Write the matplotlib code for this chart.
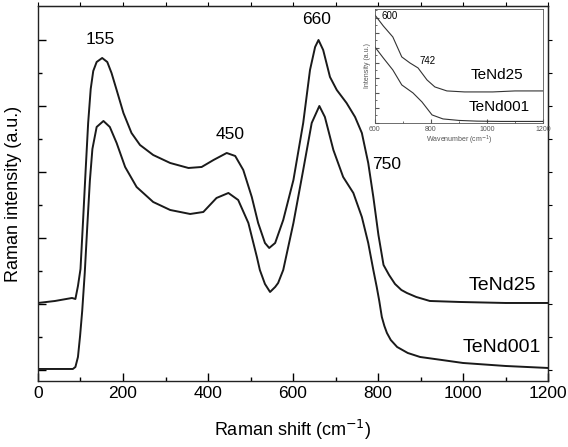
import matplotlib
matplotlib.use("Agg")
import matplotlib.pyplot as plt
from matplotlib.ticker import MultipleLocator, FixedLocator

plt.rcParams['font.family'] = ['Liberation Sans', 'DejaVu Sans']

# main spectra (x in cm-1, intensity in arbitrary units)
x_nd25 = [0, 40, 80, 88, 94, 100, 106, 112, 118, 124, 130, 138, 151, 163, 173, 185,
          201, 220, 240, 271, 311, 354, 385, 413, 444, 464, 483, 503, 518, 534,
          544, 558, 577, 601, 624, 640, 652, 660, 671, 687, 703, 726, 746, 762,
          777, 789, 801, 813, 826, 840, 855, 868, 890, 922, 993, 1100, 1200]
y_nd25 = [78, 80, 83, 82, 95, 112, 160, 210, 258, 292, 310, 319, 323, 319, 308, 291,
          268, 248, 236, 226, 218, 213, 214, 221, 228, 225, 211, 184, 158, 138,
          133, 138, 161, 201, 258, 311, 334, 341, 331, 304, 291, 278, 264, 248,
          218, 184, 146, 116, 106, 97, 91, 88, 84, 80, 79, 78, 78]

x_nd001 = [0, 40, 82, 88, 94, 99, 104, 110, 116, 122, 128, 138, 154, 169, 185, 205, 232,
           271, 311, 358, 389, 420, 448, 471, 495, 515, 522, 534, 546, 558, 565,
           577, 601, 624, 644, 662, 675, 695, 718, 742, 762, 777, 789, 797, 803,
           809, 815, 821, 830, 845, 870, 899, 950, 1000, 1100, 1200]
y_nd001 = [12, 12, 12, 14, 24, 45, 70, 108, 155, 200, 232, 254, 260, 254, 238, 214, 194,
           179, 171, 167, 169, 183, 188, 181, 158, 124, 111, 97, 89, 94, 98,
           111, 158, 211, 258, 275, 264, 231, 204, 188, 164, 138, 111, 94, 80,
           64, 55, 48, 41, 34, 28, 24, 21, 18, 15, 13]

# inset spectra
xi_nd25 = [600, 630, 664, 696, 725, 754, 786, 814, 857, 920, 1021, 1100, 1200]
yi_nd25 = [108, 97, 86, 66, 60, 55, 43, 36, 32, 31, 31, 32, 32]
xi_nd001 = [600, 630, 664, 696, 736, 768, 804, 843, 900, 964, 1050, 1200]
yi_nd001 = [76, 65, 53, 38, 30, 21, 8, 4, 2.5, 1.8, 1.5, 1.5]

peak_labels = ["155", "450", "660", "750"]
peak_pos = [(146, 341), (452, 246), (656, 361), (821, 216)]

fig = plt.figure(figsize=(5.68, 4.47), dpi=100)
ax = fig.add_axes([0.0669, 0.1477, 0.8979, 0.8389])

ax.plot(x_nd25, y_nd25, color="#1a1a1a", lw=1.4)
ax.plot(x_nd001, y_nd001, color="#1a1a1a", lw=1.4)

for lab, (px, py) in zip(peak_labels, peak_pos):
    ax.text(px, py, lab, fontsize=12.5, ha="center", va="center")
ax.text(1092, 95, "TeNd25", fontsize=14, ha="center", va="center")
ax.text(1092, 33, "TeNd001", fontsize=14, ha="center", va="center")

ax.set_xlim(0, 1200)
ax.set_ylim(0, 375)
ax.xaxis.set_major_locator(MultipleLocator(200))
ax.xaxis.set_minor_locator(MultipleLocator(100))
ax.yaxis.set_major_locator(FixedLocator([11, 77, 143, 209, 275, 341]))
ax.yaxis.set_minor_locator(FixedLocator([44, 110, 176, 242, 308]))
ax.tick_params(which="both", direction="in", width=1.0, labelsize=12.5)
ax.tick_params(which="major", length=5.5)
ax.tick_params(which="minor", length=3)
ax.tick_params(axis="y", labelleft=False)
for s in ax.spines.values():
    s.set_linewidth(1.0)
    s.set_color("#222222")

# outward ticks on top and right
top = ax.secondary_xaxis("top")
top.xaxis.set_major_locator(MultipleLocator(100))
top.tick_params(direction="out", length=3, labeltop=False)
right = ax.secondary_yaxis("right")
right.yaxis.set_major_locator(FixedLocator([11, 44, 77, 110, 143, 176, 209, 242, 275, 308, 341]))
right.tick_params(direction="out", length=3, labelright=False)

ax.set_xlabel("Raman shift (cm$^{-1}$)", fontsize=13, labelpad=12)
ax.set_ylabel("Raman intensity (a.u.)", fontsize=13, labelpad=8)

# inset
ins = fig.add_axes([0.660, 0.725, 0.296, 0.255])
ins.plot(xi_nd25, yi_nd25, color="#333333", lw=0.8)
ins.plot(xi_nd001, yi_nd001, color="#333333", lw=0.8)
ins.text(654, 107, "600", fontsize=7, ha="center", va="center")
ins.text(789, 62, "742", fontsize=7, ha="center", va="center")
ins.text(1036, 48, "TeNd25", fontsize=11, ha="center", va="center")
ins.text(1043, 16, "TeNd001", fontsize=11, ha="center", va="center")
ins.set_xlim(600, 1200)
ins.set_ylim(0, 114)
ins.xaxis.set_major_locator(MultipleLocator(200))
ins.xaxis.set_minor_locator(MultipleLocator(100))
ins.yaxis.set_major_locator(MultipleLocator(15))
ins.yaxis.set_minor_locator(MultipleLocator(7.5))
ins.tick_params(which="both", direction="in", labelsize=5, colors="#555555", pad=2)
ins.tick_params(which="major", length=3)
ins.tick_params(which="minor", length=1.5)
ins.tick_params(axis="y", labelleft=False)
for s in ins.spines.values():
    s.set_linewidth(0.6)
    s.set_color("#555555")
ins.set_xlabel("Wavenumber (cm$^{-1}$)", fontsize=5, color="#555555", labelpad=1)
ins.set_ylabel("Intensity (a.u.)", fontsize=5, color="#555555", labelpad=1)

fig.savefig("out.png", dpi=100)
